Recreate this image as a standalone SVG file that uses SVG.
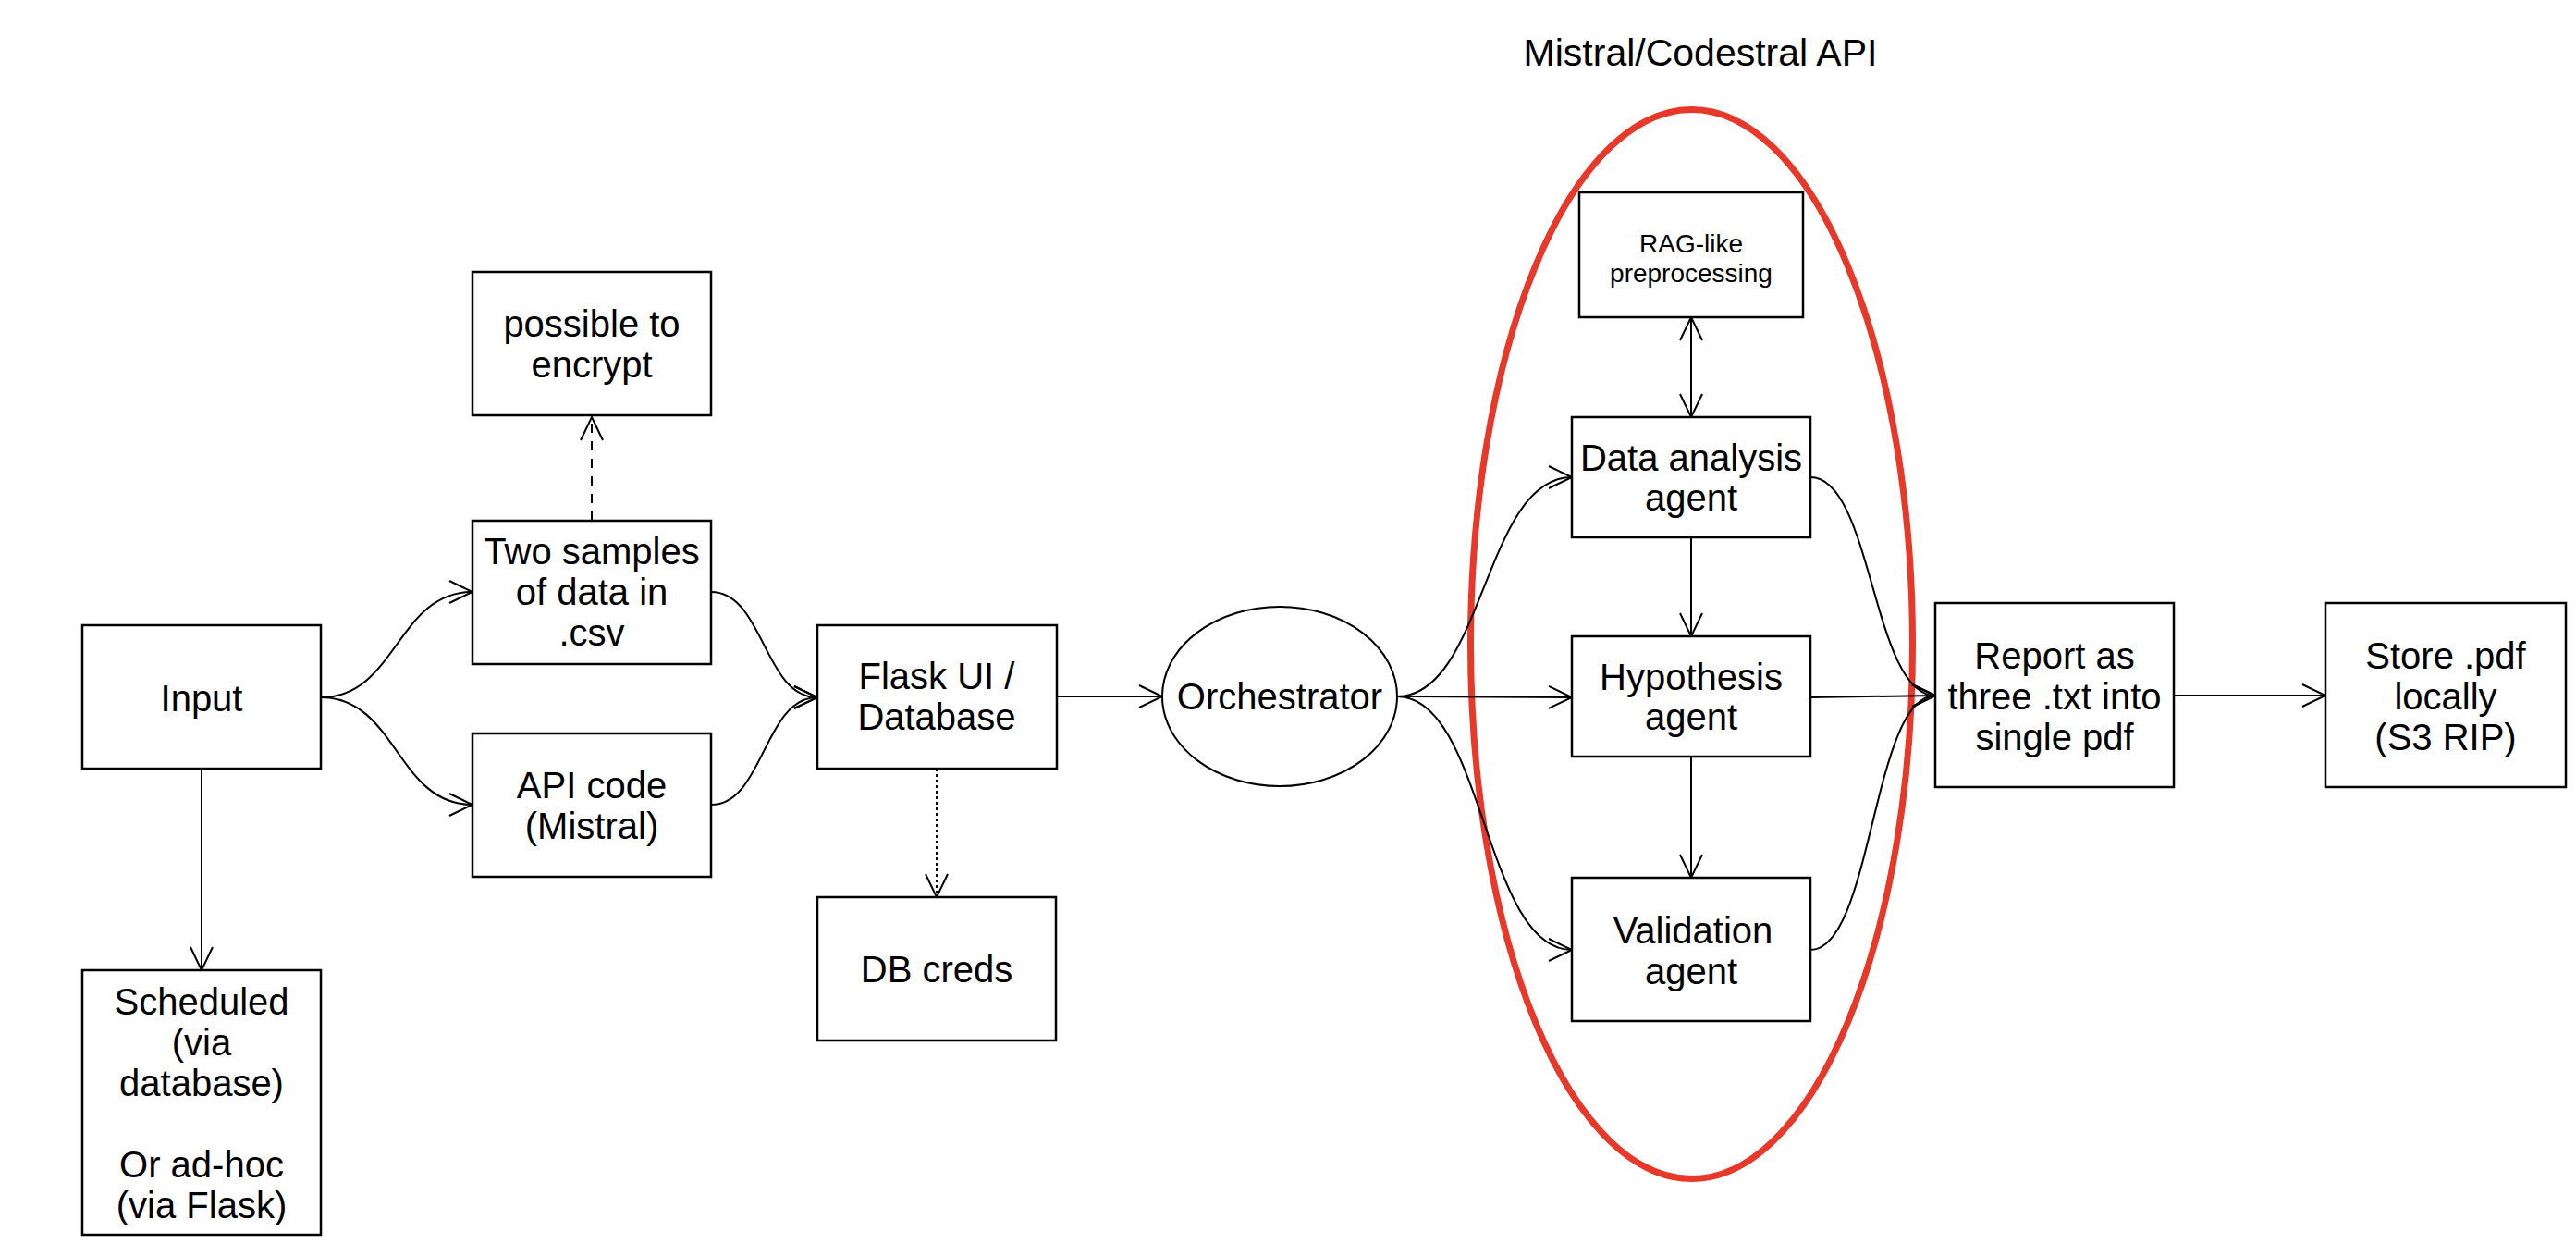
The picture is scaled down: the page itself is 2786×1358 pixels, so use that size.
<svg xmlns="http://www.w3.org/2000/svg" width="2786" height="1358" viewBox="0 0 2786 1358">
<style>
text{font-family:"Liberation Sans",Arial,sans-serif;font-size:40px;fill:#000;text-anchor:middle}
.box{fill:#fff;stroke:#000;stroke-width:2.5}
.ln{fill:none;stroke:#000;stroke-width:2}
.small{font-size:28px}
.title{font-size:41px}
</style>
<defs>
<marker id="ah" markerUnits="userSpaceOnUse" markerWidth="30" markerHeight="30" viewBox="0 0 30 30" refX="27" refY="13" orient="auto-start-reverse">
<path d="M2,1 L27,13 L2,25" fill="none" stroke="#000" stroke-width="2"/>
</marker>
</defs>
<rect width="2786" height="1358" fill="#fff"/>
<text class="title" x="1839" y="71">Mistral/Codestral API</text>
<ellipse id="api-group" cx="1829.5" cy="696.5" rx="239" ry="578" fill="none" stroke="#e8382a" stroke-width="7"/>
<g id="connectors">
<path class="ln" d="M347,754 C429,754 429,640 511,640" marker-end="url(#ah)"/>
<path class="ln" d="M347,754 C429,754 429,870 511,870" marker-end="url(#ah)"/>
<path class="ln" d="M218,831 L218,1049" marker-end="url(#ah)"/>
<path class="ln" d="M640,563 L640,451" stroke-dasharray="10,9" stroke="#333" marker-end="url(#ah)"/>
<path class="ln" d="M769,640 C826,640 826,754 884,754" marker-end="url(#ah)"/>
<path class="ln" d="M769,870 C826,870 826,754 884,754" marker-end="url(#ah)"/>
<path class="ln" d="M1013,831 L1013,970" stroke="#666" stroke-dasharray="3,3" marker-end="url(#ah)"/>
<path class="ln" d="M1143,753 L1257,753" marker-end="url(#ah)"/>
<path class="ln" d="M1511,753 C1605,753 1605,516 1700,516" marker-end="url(#ah)"/>
<path class="ln" d="M1511,753 L1700,754" marker-end="url(#ah)"/>
<path class="ln" d="M1511,753 C1605,753 1605,1027 1700,1027" marker-end="url(#ah)"/>
<path class="ln" d="M1829,343 L1829,451" marker-start="url(#ah)" marker-end="url(#ah)"/>
<path class="ln" d="M1829,581 L1829,688" marker-end="url(#ah)"/>
<path class="ln" d="M1829,818 L1829,949" marker-end="url(#ah)"/>
<path class="ln" d="M1958,516 C2025,516 2025,752 2093,752" marker-end="url(#ah)"/>
<path class="ln" d="M1958,754 L2093,752" marker-end="url(#ah)"/>
<path class="ln" d="M1958,1027 C2025,1027 2025,752 2093,752" marker-end="url(#ah)"/>
<path class="ln" d="M2351,752 L2515,752" marker-end="url(#ah)"/>
</g>
<g id="input"><rect class="box" x="89" y="676" width="258" height="155"/><text x="218" y="769">Input</text></g>
<g id="scheduled"><rect class="box" x="89" y="1049" width="258" height="286"/>
<text x="218" y="1097">Scheduled</text><text x="218" y="1141">(via</text><text x="218" y="1185">database)</text><text x="218" y="1273">Or ad-hoc</text><text x="218" y="1317">(via Flask)</text></g>
<g id="encrypt"><rect class="box" x="511" y="294" width="258" height="155"/><text x="640" y="364">possible to</text><text x="640" y="408">encrypt</text></g>
<g id="samples"><rect class="box" x="511" y="563" width="258" height="155"/><text x="640" y="610">Two samples</text><text x="640" y="654">of data in</text><text x="640" y="698">.csv</text></g>
<g id="apicode"><rect class="box" x="511" y="793" width="258" height="155"/><text x="640" y="863">API code</text><text x="640" y="907">(Mistral)</text></g>
<g id="flask"><rect class="box" x="884" y="676" width="259" height="155"/><text x="1013" y="745">Flask UI /</text><text x="1013" y="789">Database</text></g>
<g id="dbcreds"><rect class="box" x="884" y="970" width="258" height="155"/><text x="1013" y="1062">DB creds</text></g>
<g id="orchestrator"><ellipse cx="1384" cy="753" rx="127" ry="97" fill="#fff" stroke="#000" stroke-width="2"/><text x="1384" y="767">Orchestrator</text></g>
<g id="rag"><rect class="box" x="1708" y="208" width="242" height="135"/><text class="small" x="1829" y="273">RAG-like</text><text class="small" x="1829" y="305">preprocessing</text></g>
<g id="data"><rect class="box" x="1700" y="451" width="258" height="130"/><text x="1829" y="509">Data analysis</text><text x="1829" y="552">agent</text></g>
<g id="hypothesis"><rect class="box" x="1700" y="688" width="258" height="130"/><text x="1829" y="746">Hypothesis</text><text x="1829" y="789">agent</text></g>
<g id="validation"><rect class="box" x="1700" y="949" width="258" height="155"/><text x="1831" y="1020">Validation</text><text x="1829" y="1064">agent</text></g>
<g id="report"><rect class="box" x="2093" y="652" width="258" height="199"/><text x="2222" y="723">Report as</text><text x="2222" y="767">three .txt into</text><text x="2222" y="811">single pdf</text></g>
<g id="store"><rect class="box" x="2515" y="652" width="260" height="199"/><text x="2645" y="723">Store .pdf</text><text x="2645" y="767">locally</text><text x="2645" y="811">(S3 RIP)</text></g>
</svg>
